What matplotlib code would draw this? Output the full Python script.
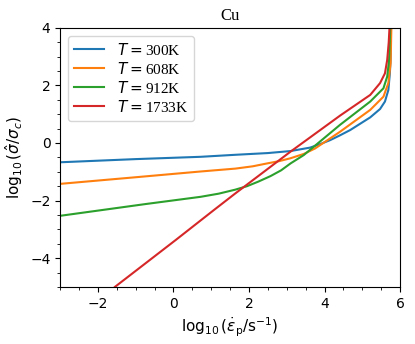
import matplotlib
matplotlib.use('Agg')
import matplotlib.pyplot as plt
from matplotlib.ticker import MultipleLocator

# values (log10 strain rate, log10 normalised stress)
x_300 = [-3.0, -1.0, 0.72, 1.64, 2.5, 3.1, 3.62, 3.9, 4.15, 4.4, 4.68, 5.21, 5.47, 5.6, 5.69, 5.73, 5.75, 5.76]
y_300 = [-0.67, -0.56, -0.48, -0.41, -0.35, -0.28, -0.16, -0.03, 0.10, 0.26, 0.45, 0.89, 1.18, 1.44, 1.84, 2.42, 2.95, 4.0]

x_608 = [-3.0, -1.0, 0.72, 1.64, 2.1, 2.48, 2.8, 3.1, 3.45, 3.75, 4.41, 5.21, 5.56, 5.69, 5.75, 5.77]
y_608 = [-1.42, -1.19, -0.99, -0.89, -0.81, -0.71, -0.63, -0.53, -0.38, -0.19, 0.39, 1.15, 1.61, 2.08, 2.77, 4.0]

x_912 = [-3.0, -0.73, 0.72, 1.2, 1.64, 1.95, 2.25, 2.57, 2.85, 3.1, 3.45, 4.41, 5.21, 5.56, 5.66, 5.71, 5.74]
y_912 = [-2.53, -2.12, -1.87, -1.76, -1.62, -1.50, -1.34, -1.15, -0.95, -0.71, -0.42, 0.63, 1.44, 1.90, 2.31, 2.89, 4.0]

x_1733 = [-1.55, 0.06, 1.07, 1.64, 3.1, 4.41, 5.21, 5.47, 5.6, 5.66, 5.7, 5.72]
y_1733 = [-5.0, -3.37, -2.33, -1.75, -0.30, 0.95, 1.67, 2.08, 2.42, 2.89, 3.5, 4.0]

labels = ['300K', '608K', '912K', '1733K']

fig = plt.figure(figsize=(4.15, 3.44), dpi=100)
ax = fig.add_axes([0.145, 0.166, 0.819, 0.753])

for xs, ys, lab in zip([x_300, x_608, x_912, x_1733],
                       [y_300, y_608, y_912, y_1733], labels):
    ax.plot(xs, ys, lw=1.5, label=r'$T = $' + lab)

ax.set_xlim(-3, 6)
ax.set_ylim(-5, 4)
ax.xaxis.set_major_locator(MultipleLocator(2))
ax.yaxis.set_major_locator(MultipleLocator(2))
ax.xaxis.set_minor_locator(MultipleLocator(0.5))
ax.yaxis.set_minor_locator(MultipleLocator(0.5))
ax.set_xlabel(r'$\log_{10}(\dot{\varepsilon}_\mathrm{p}/\mathrm{s}^{-1})$', fontsize=11)
ax.set_ylabel(r'$\log_{10}(\hat{\sigma}/\sigma_c)$', fontsize=11)
ax.set_title('Cu', family='Liberation Serif', fontsize=12)

leg = ax.legend(loc='upper left', labelspacing=0.2,
                prop={'family': 'Liberation Serif', 'size': 11})

fig.savefig('out.png', dpi=100)
